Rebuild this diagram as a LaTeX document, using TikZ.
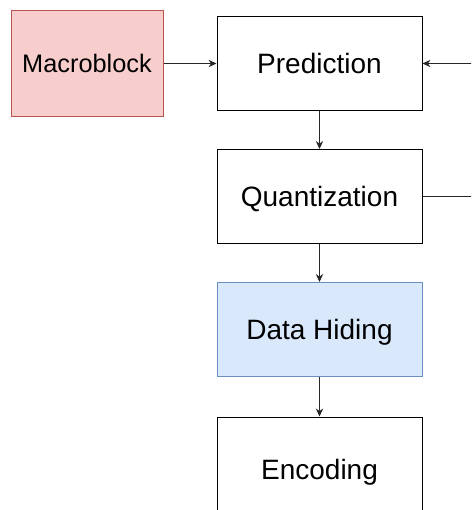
\documentclass[tikz,border=0pt]{standalone}
\usepackage{fontspec}
\setmainfont{Liberation Sans}
\usetikzlibrary{arrows.meta}
\definecolor{redfill}{HTML}{F8CECC}
\definecolor{redline}{HTML}{B85450}
\definecolor{bluefill}{HTML}{DAE8FC}
\definecolor{blueline}{HTML}{6C8EBF}
\begin{document}
\begin{tikzpicture}[x=0.75pt,y=-0.75pt,
  box/.style={draw=black, line width=0.75pt, minimum width=153.75pt, minimum height=70.5pt, inner sep=0pt, text height=15pt, text depth=0pt, font=\fontsize{21}{25}\selectfont},
  conn/.style={line width=0.75pt, draw=black!85},
  arr/.style={conn, -{Stealth[length=6pt,width=5.5pt]}}]
\useasboundingbox (0,0) rectangle (471,510);
\clip (0,0) rectangle (471,510);
\fill[white] (0,0) rectangle (471,510);
\node[draw=redline, fill=redfill, line width=0.75pt, minimum width=114pt, minimum height=78.75pt, inner sep=0pt, text height=13.6pt, text depth=0pt, font=\fontsize{19}{23}\selectfont] (mb) at (87,63.5) {Macroblock};
\node[box] (pred) at (319.5,63.5) {Prediction};
\node[box] (quant) at (319.5,196.5) {Quantization};
\node[box, draw=blueline, fill=bluefill] (hide) at (319.5,329.5) {Data Hiding};
\node[box, minimum height=78.75pt] (enc) at (319.5,469.5) {Encoding};
\coordinate (rin) at (475,63.5);
\coordinate (rout) at (475,196.5);
\draw[arr] (mb) -- (pred);
\draw[arr] (rin) -- (pred.east);
\draw[conn] (quant.east) -- (rout);
\draw[arr] (pred) -- (quant);
\draw[arr] (quant) -- (hide);
\draw[arr] (hide) -- (enc);
\end{tikzpicture}
\end{document}
